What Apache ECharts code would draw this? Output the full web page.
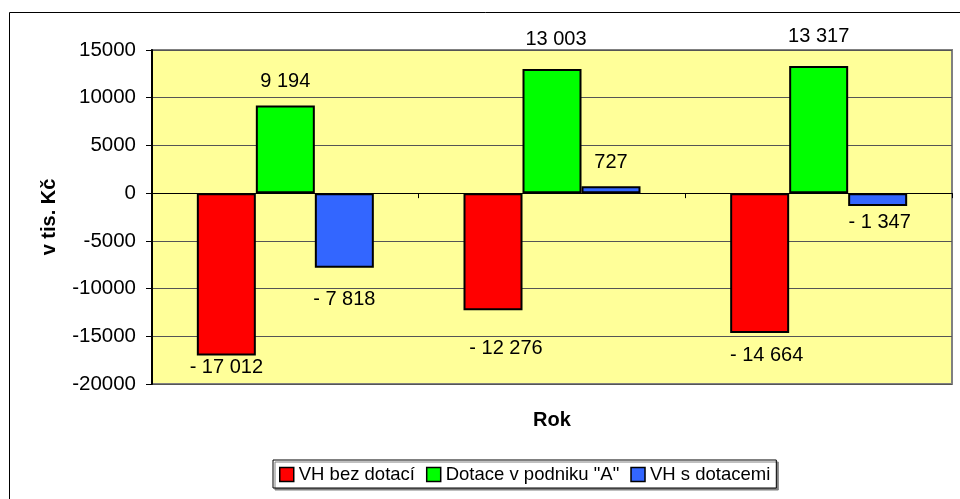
<!DOCTYPE html>
<html>
<head>
<meta charset="utf-8">
<script src="https://cdn.jsdelivr.net/npm/echarts@6/dist/echarts.min.js"></script>
<style>
  html, body { margin: 0; padding: 0; background: #fff; }
  #chart { width: 960px; height: 499px; }
</style>
</head>
<body>
<div id="chart"></div>
<script>
// data
var categories = ['1. rok', '2. rok', '3. rok'];
var seriesNames = ['VH bez dotací', 'Dotace v podniku "A"', 'VH s dotacemi'];
var vhBezDotaci = [-17012, -12276, -14664];
var dotace = [9194, 13003, 13317];
var vhSDotacemi = [-7818, 727, -1347];
var yMin = -20000, yMax = 15000, yStep = 5000;

// label nudges [dx, dy] (layout only)
var nudgeRed = [[0, 2], [13, 28], [7, 12]];
var nudgeGreen = [[0, -14], [4, -20], [0, -20]];
var nudgeBlue = [[0, 22], [0, -14], [2, 6]];

var font = "'Liberation Sans', Arial, sans-serif";

// "- 17 012" style numbers
function fmt(v) {
    var s = String(Math.abs(v)).replace(/\B(?=(\d{3})+(?!\d))/g, ' ');
    return v < 0 ? '- ' + s : s;
}

function items(values, nudges) {
    return values.map(function (v, i) {
        return { value: v, label: { offset: nudges[i] } };
    });
}

function barSeries(name, values, color, nudges) {
    return {
        name: name,
        type: 'bar',
        data: items(values, nudges),
        barWidth: 59,
        barGap: '0%',
        itemStyle: { color: color, borderColor: '#000', borderWidth: 2 },
        label: {
            show: true,
            position: 'outside',
            distance: 0,
            color: '#000',
            fontSize: 20,
            lineHeight: 20,
            fontFamily: font,
            formatter: function (p) { return fmt(p.value); }
        },
        emphasis: { disabled: true },
        animation: false
    };
}

var chart = echarts.init(document.getElementById('chart'));
var option = {
    textStyle: { fontFamily: font },
    grid: {
        left: 152, top: 50, right: 8, bottom: 115,
        show: true,
        backgroundColor: '#FFFF99',
        borderColor: '#808080',
        borderWidth: 2
    },
    legend: {
        left: 273, top: 460,
        padding: [5, 6, 4, 6],
        itemWidth: 14, itemHeight: 14,
        itemGap: 11,
        icon: 'rect',
        backgroundColor: '#fff',
        borderColor: '#000',
        borderWidth: 1,
        shadowColor: '#808080',
        shadowOffsetX: 2, shadowOffsetY: 2,
        itemStyle: { borderColor: '#000', borderWidth: 1.5 },
        textStyle: { color: '#000', fontSize: 18.5, fontFamily: font },
        data: seriesNames
    },
    xAxis: {
        type: 'category',
        data: categories,
        axisLine: { onZero: true, lineStyle: { color: '#000', width: 1 } },
        axisTick: { show: true, length: 5, lineStyle: { color: '#000' } },
        axisLabel: { show: false },
        splitLine: { show: false }
    },
    yAxis: {
        type: 'value',
        min: yMin, max: yMax, interval: yStep,
        name: 'v tis. Kč',
        nameLocation: 'middle',
        nameRotate: 90,
        nameGap: 93,
        nameTextStyle: { color: '#000', fontSize: 20, fontWeight: 'bold', fontFamily: font },
        axisLine: { show: true, lineStyle: { color: '#000', width: 2 } },
        axisTick: { show: true, length: 6, lineStyle: { color: '#000' } },
        axisLabel: { color: '#000', fontSize: 20.5, fontFamily: font, margin: 16,
            formatter: function (v) { return String(v); } },
        splitLine: { lineStyle: { color: '#555', width: 1 } }
    },
    graphic: [
        {
            type: 'rect', silent: true, z: 100,
            shape: { x: 9.5, y: 12.5, width: 1000, height: 1000 },
            style: { fill: 'none', stroke: '#000', lineWidth: 1 }
        },
        {
            type: 'text', silent: true,
            x: 552, y: 420,
            style: { text: 'Rok', fill: '#000', font: 'bold 20px ' + font,
                align: 'center', verticalAlign: 'middle' }
        }
    ],
    series: [
        barSeries(seriesNames[0], vhBezDotaci, '#FF0000', nudgeRed),
        barSeries(seriesNames[1], dotace, '#00FF00', nudgeGreen),
        barSeries(seriesNames[2], vhSDotacemi, '#3366FF', nudgeBlue)
    ]
};
chart.setOption(option);
</script>
</body>
</html>
